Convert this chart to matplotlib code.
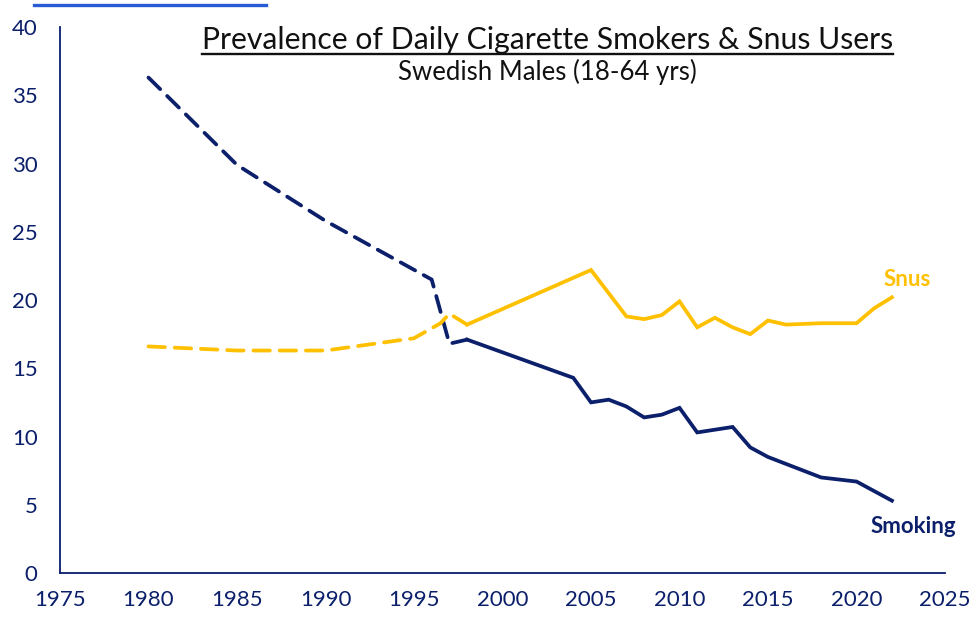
import matplotlib
matplotlib.use("Agg")
import matplotlib.pyplot as plt
from matplotlib.lines import Line2D

plt.rcParams['font.family'] = ['Lato', 'DejaVu Sans']

NAVY = '#0b1f6b'
GOLD = '#ffc000'

# Earlier survey series (dashed)
smoke_early_years = [1980, 1985, 1990, 1996, 1997, 1998]
smoke_early_vals = [36.3, 29.9, 25.8, 21.5, 16.8, 17.1]
snus_early_years = [1980, 1985, 1990, 1995, 1996.5, 1997, 1998]
snus_early_vals = [16.6, 16.3, 16.3, 17.2, 18.3, 19.0, 18.2]

# Later survey series (solid)
smoke_years = [1998, 2004, 2005, 2006, 2007, 2008, 2009, 2010, 2011, 2013,
               2014, 2015, 2018, 2020, 2022]
smoke_vals = [17.1, 14.3, 12.5, 12.7, 12.2, 11.4, 11.6, 12.1, 10.3, 10.7,
              9.2, 8.5, 7.0, 6.7, 5.3]
snus_years = [1998, 2005, 2007, 2008, 2009, 2010, 2011, 2012, 2013, 2014,
              2015, 2016, 2018, 2020, 2021, 2022]
snus_vals = [18.2, 22.2, 18.8, 18.6, 18.9, 19.9, 18.0, 18.7, 18.0, 17.5,
             18.5, 18.2, 18.3, 18.3, 19.4, 20.2]

x_ticks = [1975, 1980, 1985, 1990, 1995, 2000, 2005, 2010, 2015, 2020, 2025]
y_ticks = [0, 5, 10, 15, 20, 25, 30, 35, 40]

fig = plt.figure(figsize=(9.78, 6.19), dpi=100)
ax = fig.add_axes([0.0613, 0.0743, 0.905, 0.882])

lw = 2.7
dash = (4.4, 2.6)
ax.plot(smoke_early_years, smoke_early_vals, color=NAVY, lw=lw,
        dashes=dash, dash_capstyle='round')
ax.plot(snus_early_years, snus_early_vals, color=GOLD, lw=lw,
        dashes=dash, dash_capstyle='round')
ax.plot(smoke_years, smoke_vals, color=NAVY, lw=lw, solid_joinstyle='miter')
ax.plot(snus_years, snus_vals, color=GOLD, lw=lw, solid_joinstyle='miter')

ax.set_xlim(1975, 2025)
ax.set_ylim(0, 40)
ax.set_xticks(x_ticks)
ax.set_yticks(y_ticks)
ax.tick_params(length=0, labelsize=16, colors=NAVY)
ax.tick_params(axis='x', pad=12)
ax.tick_params(axis='y', pad=16)
for s in ['top', 'right']:
    ax.spines[s].set_visible(False)
for s in ['left', 'bottom']:
    ax.spines[s].set_color(NAVY)
    ax.spines[s].set_linewidth(1.3)

# Series labels
ax.text(smoke_years[-1] - 1.2, smoke_vals[-1] - 1.1, 'Smoking', color=NAVY,
        fontsize=16, fontweight='bold', ha='left', va='top')
ax.text(snus_years[-1] - 0.5, snus_vals[-1] + 0.5, 'Snus', color=GOLD,
        fontsize=16, fontweight='bold', ha='left', va='bottom')

# Titles
t = fig.text(0.5595, 0.935, 'Prevalence of Daily Cigarette Smokers & Snus Users',
             fontsize=21.7, color='#111111', ha='center', va='center')
fig.text(0.5595, 0.883, 'Swedish Males (18-64 yrs)', fontsize=18.5,
         color='#111111', ha='center', va='center')
fig.canvas.draw()
bb = t.get_window_extent().transformed(fig.transFigure.inverted())
uy = 1 - 54 / 619
fig.add_artist(Line2D([bb.x0, bb.x1], [uy, uy],
                      color='#111111', lw=1.7, transform=fig.transFigure))

# Header rule
fig.add_artist(Line2D([34 / 978, 266 / 978], [1 - 5 / 619, 1 - 5 / 619],
                      color='#2a5bd7', lw=2.4, transform=fig.transFigure))

fig.savefig('out.png', dpi=100)
